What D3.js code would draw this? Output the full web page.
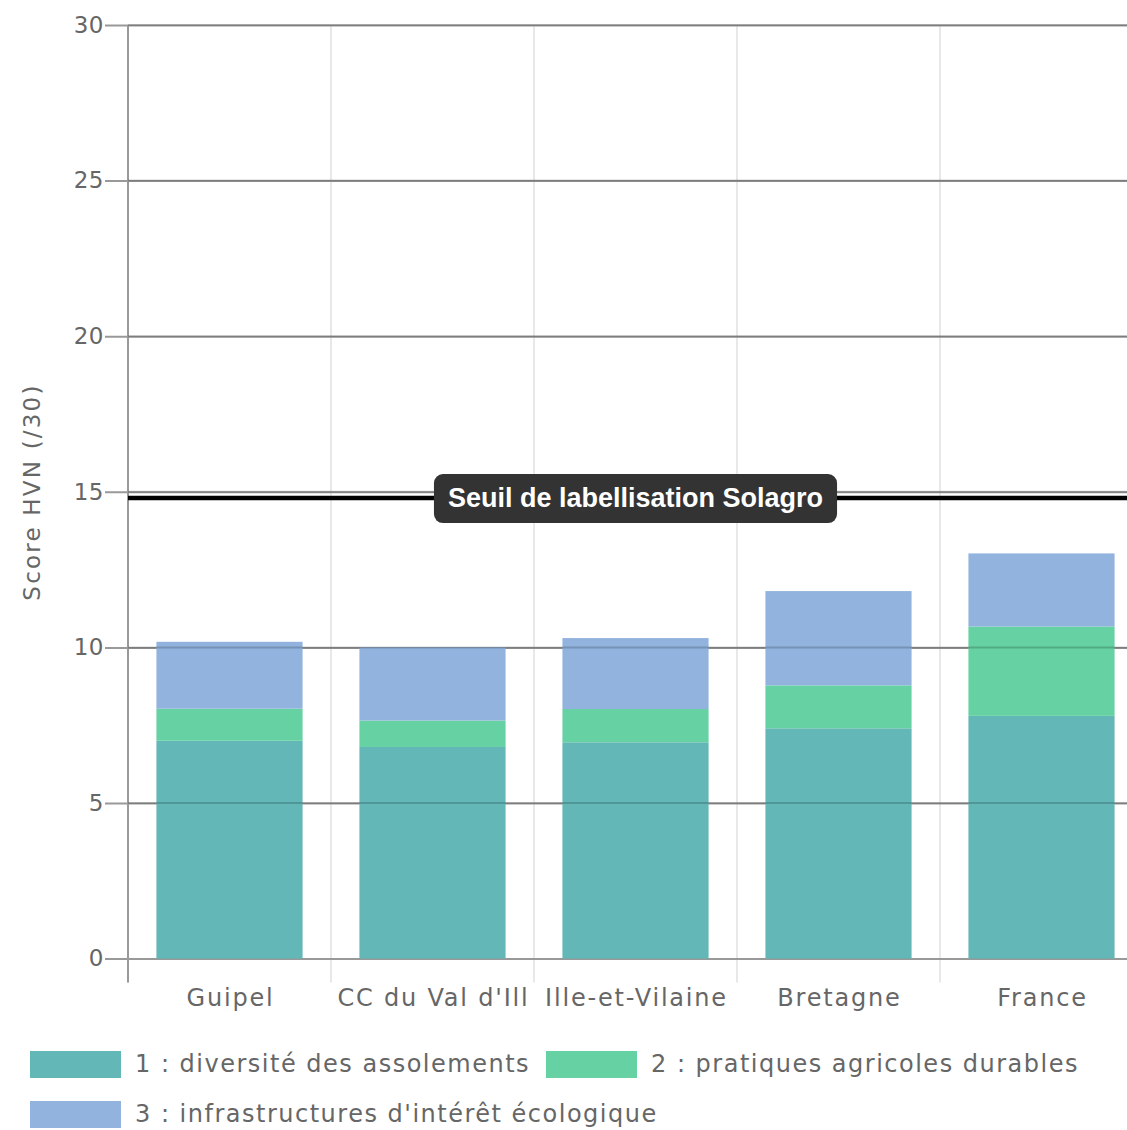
<!DOCTYPE html>
<html>
<head>
<meta charset="utf-8">
<script src="https://cdn.jsdelivr.net/npm/d3@7"></script>
<style>
  html, body { margin: 0; padding: 0; background: #fff; }
  svg { display: block; }
</style>
</head>
<body>
<svg id="chart" width="1127" height="1130"></svg>
<script>
const categories = ["Guipel", "CC du Val d'Ill", "Ille-et-Vilaine", "Bretagne", "France"];
const seriesNames = ["1 : diversité des assolements", "2 : pratiques agricoles durables", "3 : infrastructures d'intérêt écologique"];
const diversite = [7.0, 6.8, 6.95, 7.4, 7.8];
const pratiques = [1.03, 0.85, 1.07, 1.38, 2.87];
const infrastructures = [2.15, 2.35, 2.28, 3.03, 2.35];
const yTicks = [0, 5, 10, 15, 20, 25, 30];
const threshold = 14.8;
const thresholdLabel = "Seuil de labellisation Solagro";
const yAxisTitle = "Score HVN (/30)";
const colors = ["#63b7b7", "#66d1a2", "#91b3dd"];

(function () {
const svg = d3.select("#chart");
const font = "'DejaVu Sans', sans-serif";
const pLeft = 128, pRight = 1143, pTop = 25, pBottom = 958.6;

const x = d3.scaleBand().domain(categories).range([pLeft, pRight]).paddingInner(0.28).paddingOuter(0.14);
const y = d3.scaleLinear().domain([0, 30]).range([pBottom, pTop]);

// vertical gridlines (category boundaries)
const step = x.step();
const bounds = categories.map((c, i) => pLeft + i * step).concat([pRight]);
svg.append("g").selectAll("line").data(bounds).join("line")
  .attr("x1", d => d).attr("x2", d => d)
  .attr("y1", pTop).attr("y2", pBottom + 24)
  .attr("stroke", "#e0e0e0").attr("stroke-width", 1.5);

// horizontal gridlines + ticks
const yAxis = d3.axisLeft(y).tickValues(yTicks).tickSize(-(pRight - pLeft)).tickPadding(4);
const gy = svg.append("g").attr("transform", `translate(${pLeft},0)`).call(yAxis);
gy.select(".domain").remove();
gy.selectAll(".tick line").attr("x1", -23).attr("stroke", "#999").attr("stroke-width", 2);
gy.selectAll(".tick text").attr("x", -24).attr("fill", "#666").attr("font-family", font)
  .attr("font-size", 23).attr("letter-spacing", 0.5);

// y axis line
svg.append("line").attr("x1", pLeft).attr("x2", pLeft).attr("y1", pTop).attr("y2", pBottom + 24)
  .attr("stroke", "#999").attr("stroke-width", 2);

// stacked data
const rows = categories.map((c, i) => ({cat: c, s0: diversite[i], s1: pratiques[i], s2: infrastructures[i]}));
const stack = d3.stack().keys(["s0", "s1", "s2"])(rows);

svg.append("g").selectAll("g").data(stack).join("g")
  .attr("fill", (d, i) => colors[i])
  .selectAll("rect").data(d => d).join("rect")
  .attr("x", d => x(d.data.cat))
  .attr("width", x.bandwidth())
  .attr("y", d => y(d[1]))
  .attr("height", d => y(d[0]) - y(d[1]));

// gridlines faintly visible through bars
svg.append("g").selectAll("line").data(yTicks.filter(t => t > 0)).join("line")
  .attr("x1", pLeft).attr("x2", pRight).attr("y1", d => y(d)).attr("y2", d => y(d))
  .attr("stroke", "#000").attr("stroke-opacity", 0.18).attr("stroke-width", 2);

// x labels
svg.append("g").selectAll("text").data(categories).join("text")
  .attr("x", d => x(d) + x.bandwidth() / 2 + 1)
  .attr("y", 1006)
  .attr("text-anchor", "middle")
  .attr("fill", "#666").attr("font-family", font).attr("font-size", 24).attr("letter-spacing", 1.8)
  .text(d => d);

// y axis title
svg.append("text")
  .attr("transform", `translate(40,492) rotate(-90)`)
  .attr("text-anchor", "middle")
  .attr("fill", "#666").attr("font-family", font).attr("font-size", 23).attr("letter-spacing", 2.2)
  .text(yAxisTitle);

// threshold line
svg.append("line").attr("x1", pLeft).attr("x2", pRight)
  .attr("y1", y(threshold)).attr("y2", y(threshold))
  .attr("stroke", "#000").attr("stroke-width", 4.5);

const cx = (pLeft + pRight) / 2;
const lbl = svg.append("g");
const lt = lbl.append("text")
  .attr("x", cx).attr("y", y(threshold) + 9)
  .attr("text-anchor", "middle")
  .attr("fill", "#fff").attr("font-family", "'Liberation Sans', Arial, sans-serif")
  .attr("font-weight", "bold").attr("font-size", 27)
  .text(thresholdLabel);
const bb = lt.node().getBBox();
lbl.insert("rect", "text")
  .attr("x", bb.x - 14).attr("y", y(threshold) - 24)
  .attr("width", bb.width + 28).attr("height", 49)
  .attr("rx", 9).attr("fill", "#333");

// legend
const legendPos = [[30, 1051], [546, 1051], [30, 1101]];
const lg = svg.append("g").selectAll("g").data(seriesNames).join("g")
  .attr("transform", (d, i) => `translate(${legendPos[i][0]},${legendPos[i][1]})`);
lg.append("rect").attr("width", 91).attr("height", 27).attr("fill", (d, i) => colors[i]);
lg.append("text").attr("x", 105).attr("y", 21)
  .attr("fill", "#666").attr("font-family", font).attr("font-size", 24).attr("letter-spacing", 1.5)
  .text(d => d);
})();
</script>
</body>
</html>
